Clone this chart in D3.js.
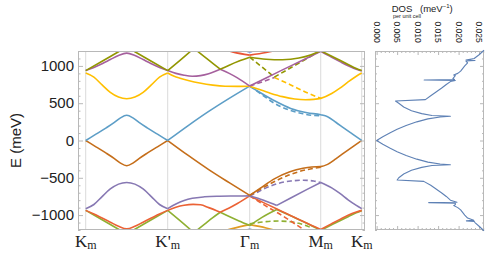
<!DOCTYPE html>
<html>
<head>
<meta charset="utf-8">
<script src="https://cdn.jsdelivr.net/npm/d3@7"></script>
<style>
  body { margin: 0; background: #fff; }
  svg { display: block; font-family: "Liberation Sans", Arial, sans-serif; }
</style>
</head>
<body>
<div class="canvas"></div>
<script>
// high-symmetry points along the path (path length in units of |Gamma-K|)
const kPoints = [0, 1, 2, 2.866, 3.366];
const kLabels = [['K', 'm'], ["K'", 'm'], ['\u0393', 'm'], ['M', 'm'], ['K', 'm']];
const eTicks = [-1000, -500, 0, 500, 1000];
const dosTicks = [0, 0.005, 0.010, 0.015, 0.020, 0.025];

// bands, each one a list of smooth pieces of [k, E(meV)]
const band1 = [[[1.9, -1250], [1.96, -1202], [2, -1190], [2.04, -1202], [2.1, -1250]]];
const band2 = [[[1.63, -1230], [1.8, -1178], [2, -1128]], [[2, -1128], [2.2, -1172], [2.45, -1245]]];
const band3 = [
  [[0, -937], [0.2, -1063], [0.4, -1190], [0.5, -1253]], [[0.5, -1253], [0.6, -1190], [0.8, -1063], [1, -937]],
  [[1, -937], [1.15, -1075], [1.32, -1235]], [[1.32, -1235], [1.45, -1121], [1.55, -1034], [1.64, -962]],
  [[1.64, -962], [1.75, -1020], [1.87, -1080], [2, -1140]],
  [[2, -1140], [2.15, -1030], [2.33, -925]], [[2.33, -925], [2.5, -1010], [2.7, -1112], [2.866, -1205]],
  [[2.866, -1205], [3.0, -1130], [3.1, -1075], [3.2, -1022], [3.3, -968], [3.366, -940]]
];
const band4 = [
  [[0, -937], [0.1, -985], [0.2, -1040], [0.3, -1095], [0.4, -1150], [0.5, -1185], [0.6, -1150], [0.7, -1095], [0.8, -1040], [0.9, -985], [1, -937]],
  [[1, -937], [1.1, -895], [1.2, -868], [1.31, -856], [1.4, -862], [1.5, -900], [1.64, -962]],
  [[1.64, -962], [1.75, -905], [1.85, -845], [2, -743]],
  [[2, -743], [2.2, -850], [2.4, -955], [2.6, -1060], [2.75, -1135], [2.866, -1193]],
  [[2.866, -1193], [3.0, -1115], [3.1, -1058], [3.2, -1003], [3.3, -960], [3.366, -937]]
];
const band5 = [
  [[0, -914], [0.1, -858], [0.2, -752], [0.3, -650], [0.4, -585], [0.5, -563], [0.6, -585], [0.7, -650], [0.8, -752], [0.9, -858], [1, -914]],
  [[1, -914], [1.1, -852], [1.2, -805], [1.3, -775], [1.45, -755], [1.6, -747], [1.8, -744], [2, -743]],
  [[2, -743], [2.1, -775], [2.2, -815], [2.33, -870]],
  [[2.33, -870], [2.5, -770], [2.7, -655], [2.866, -563]],
  [[2.866, -563], [3.0, -635], [3.1, -710], [3.2, -795], [3.3, -870], [3.366, -914]]
];
const band6 = [
  [[0, 0], [0.125, -85], [0.25, -170], [0.35, -243], [0.42, -300], [0.5, -338], [0.58, -300], [0.65, -243], [0.75, -170], [0.875, -85], [1, 0]],
  [[1, 0], [1.25, -200], [1.5, -390], [1.75, -565], [2, -735]],
  [[2, -735], [2.13, -640], [2.3, -515], [2.49, -420], [2.65, -372], [2.756, -355], [2.866, -350], [2.95, -320], [3.05, -247], [3.15, -166], [3.25, -88], [3.366, 0]]
];
const band7 = [
  [[0, 0], [0.125, 85], [0.25, 170], [0.35, 243], [0.42, 300], [0.5, 338], [0.58, 300], [0.65, 243], [0.75, 170], [0.875, 85], [1, 0]],
  [[1, 0], [1.25, 200], [1.5, 390], [1.75, 565], [2, 730]],
  [[2, 730], [2.1, 660], [2.29, 540], [2.5, 430], [2.7, 372], [2.866, 345], [2.95, 318], [3.05, 245], [3.15, 165], [3.25, 88], [3.366, 0]]
];
const band8 = [
  [[0, 905], [0.1, 850], [0.2, 745], [0.3, 645], [0.4, 582], [0.5, 560], [0.6, 582], [0.7, 645], [0.8, 745], [0.9, 850], [1, 905]],
  [[1, 905], [1.08, 860], [1.15, 835], [1.25, 805], [1.39, 770], [1.55, 742], [1.7, 728], [1.85, 726], [2, 728]],
  [[2, 728], [2.1, 690], [2.25, 635], [2.4, 588], [2.55, 556], [2.68, 546], [2.78, 551], [2.866, 565], [3.0, 630], [3.1, 702], [3.2, 785], [3.3, 862], [3.366, 905]]
];
const band9 = [
  [[0, 937], [0.1, 978], [0.2, 1030], [0.3, 1085], [0.4, 1140], [0.5, 1172], [0.6, 1140], [0.7, 1085], [0.8, 1030], [0.9, 978], [1, 937]],
  [[1, 937], [1.1, 900], [1.2, 875], [1.3, 862], [1.4, 870], [1.5, 895], [1.64, 955]],
  [[1.64, 955], [1.75, 900], [1.85, 840], [2, 730]],
  [[2, 730], [2.2, 838], [2.4, 947], [2.6, 1053], [2.75, 1133], [2.866, 1195]],
  [[2.866, 1195], [3.0, 1115], [3.1, 1058], [3.2, 1003], [3.3, 955], [3.366, 932]]
];
const band10 = [
  [[0, 937], [0.2, 1063], [0.4, 1190], [0.5, 1253]], [[0.5, 1253], [0.6, 1190], [0.8, 1063], [1, 937]],
  [[1, 937], [1.15, 1075], [1.32, 1235]], [[1.32, 1235], [1.45, 1121], [1.55, 1034], [1.64, 955]],
  [[1.64, 955], [1.75, 1010], [1.87, 1065], [2, 1117]],
  [[2, 1117], [2.2, 1090], [2.4, 1083], [2.6, 1105], [2.75, 1150], [2.866, 1203]],
  [[2.866, 1203], [3.0, 1130], [3.1, 1075], [3.2, 1020], [3.3, 966], [3.366, 937]]
];
const band11 = [[[1.63, 1235], [1.8, 1185], [2, 1145]], [[2, 1145], [2.2, 1180], [2.45, 1240]]];
const band12 = [[[1.9, 1250], [1.96, 1200], [2, 1188], [2.04, 1200], [2.1, 1250]]];

// dashed curves between Gamma and M
const dash3 = [[[2, -1117], [2.2, -1088], [2.35, -1080], [2.5, -1090], [2.6, -1110], [2.75, -1170]]];
const dash4 = [[[2, -743], [2.2, -880], [2.4, -1010], [2.57, -1130], [2.68, -1210]]];
const dash5 = [[[2, -743], [2.1, -690], [2.2, -635], [2.35, -575], [2.5, -543], [2.65, -533], [2.78, -543], [2.866, -563]]];
const dash6 = [[[2, -735], [2.2, -610], [2.45, -475], [2.7, -390], [2.866, -358]]];
const dash7 = [[[2, 730], [2.13, 630], [2.3, 500], [2.49, 405], [2.65, 358], [2.756, 338], [2.866, 332]]];
const dash8 = [[[2.3, 845], [2.5, 745], [2.7, 640], [2.866, 565]]];
const dash9 = [[[2, 730], [2.15, 785], [2.3, 845]]];
const dash10 = [[[2, 1117], [2.15, 985], [2.3, 850]], [[2.3, 850], [2.5, 975], [2.7, 1100], [2.866, 1203]]];

// density of states: [E(meV), DOS]
const dosE = [-1210, -1150, -1100, -1085, -1078, -1070, -1040, -1000, -930, -900, -873, -860, -840, -833, -828, -800, -750, -700, -650, -600, -548, -530, -500, -450, -400, -360, -335, -325, -315, -290, -250, -200, -150, -100, -50, 0,
  50, 100, 150, 200, 250, 290, 315, 325, 335, 360, 400, 450, 500, 530, 548, 600, 650, 700, 750, 790, 805, 812, 818, 830, 870, 878, 900, 930, 1000, 1040, 1065, 1072, 1080, 1100, 1150, 1210];
const dosV = [0.0262, 0.0250, 0.0240, 0.0238, 0.0219, 0.0237, 0.0222, 0.0215, 0.0205, 0.0198, 0.0188, 0.0192, 0.0192, 0.0127, 0.0196, 0.0180, 0.0170, 0.0158, 0.0145, 0.0132, 0.0115, 0.0050, 0.0054, 0.0066, 0.0085, 0.0110, 0.0135, 0.0180, 0.0155, 0.0125, 0.0098, 0.0072, 0.0050, 0.0032, 0.0015, 0,
  0.0015, 0.0032, 0.0050, 0.0072, 0.0098, 0.0125, 0.0155, 0.0180, 0.0135, 0.0110, 0.0085, 0.0066, 0.0054, 0.0046, 0.0119, 0.0132, 0.0145, 0.0158, 0.0170, 0.0180, 0.0192, 0.0116, 0.0190, 0.0186, 0.0192, 0.0188, 0.0198, 0.0205, 0.0215, 0.0222, 0.0218, 0.0240, 0.0218, 0.0238, 0.0250, 0.0262];

const bands = [
  {d: band1, c: '#5E81B5'}, {d: band2, c: '#E19C24'}, {d: band3, c: '#8FB032'}, {d: band4, c: '#EB6235'},
  {d: band5, c: '#8778B3'}, {d: band6, c: '#C56E1A'}, {d: band7, c: '#5D9EC7'}, {d: band8, c: '#FFBF00'},
  {d: band9, c: '#A5609D'}, {d: band10, c: '#929600'}, {d: band11, c: '#E95536'}, {d: band12, c: '#6685D9'}
];
const dashes = [
  {d: dash3, c: '#8FB032'}, {d: dash4, c: '#EB6235'}, {d: dash5, c: '#8778B3'}, {d: dash6, c: '#C56E1A'},
  {d: dash7, c: '#5D9EC7'}, {d: dash8, c: '#FFBF00'}, {d: dash9, c: '#A5609D'}, {d: dash10, c: '#929600'}
];

const W = 498, H = 256;
const frameCol = '#b8b8b8', gridCol = '#dadada', textCol = '#222';

const svg = d3.select('.canvas').append('svg')
  .attr('width', W)
  .attr('height', H);

const x = d3.scaleLinear().domain([-0.094, 3.406]).range([78, 365]);
const y = d3.scaleLinear().domain([-1200, 1200]).range([230, 51]);
const xd = d3.scaleLinear().domain([-0.0004, 0.0262]).range([375, 484]);

svg.append('clipPath').attr('id', 'clipMain')
  .append('rect')
  .attr('x', x.range()[0]).attr('y', y.range()[1])
  .attr('width', x.range()[1] - x.range()[0])
  .attr('height', y.range()[0] - y.range()[1]);

// vertical lines at the high-symmetry points
svg.append('g').selectAll('line')
  .data(kPoints)
  .join('line')
  .attr('x1', d => x(d)).attr('x2', d => x(d))
  .attr('y1', y.range()[1]).attr('y2', y.range()[0])
  .attr('stroke', gridCol)
  .attr('stroke-width', 1);

const line = d3.line()
  .x(d => x(d[0]))
  .y(d => y(d[1]))
  .curve(d3.curveMonotoneX);

const plot = svg.append('g').attr('clip-path', 'url(#clipMain)');

// dashed curves under the solid bands
dashes.forEach(b => {
  plot.append('g').selectAll('path')
    .data(b.d)
    .join('path')
    .attr('d', line)
    .attr('fill', 'none')
    .attr('stroke', b.c)
    .attr('stroke-width', 1.6)
    .attr('stroke-dasharray', '5,3');
});

bands.forEach(b => {
  plot.append('g').selectAll('path')
    .data(b.d)
    .join('path')
    .attr('d', line)
    .attr('fill', 'none')
    .attr('stroke', b.c)
    .attr('stroke-width', 1.6)
    .attr('stroke-linejoin', 'round');
});

// frame of the band panel
svg.append('rect')
  .attr('x', x.range()[0] + 0.5).attr('y', y.range()[1] + 0.5)
  .attr('width', x.range()[1] - x.range()[0] - 1)
  .attr('height', y.range()[0] - y.range()[1] - 1)
  .attr('fill', 'none')
  .attr('stroke', frameCol);

// energy ticks, inward on both sides
const minorE = d3.range(-1200, 1201, 100).filter(v => v % 500 !== 0);
[x.range()[0], x.range()[1]].forEach((x0, i) => {
  const dir = i === 0 ? 1 : -1;
  svg.append('g').selectAll('line')
    .data(eTicks)
    .join('line')
    .attr('x1', x0).attr('x2', x0 + dir * 5)
    .attr('y1', d => y(d) + 0.5).attr('y2', d => y(d) + 0.5)
    .attr('stroke', frameCol);
  svg.append('g').selectAll('line')
    .data(minorE)
    .join('line')
    .attr('x1', x0).attr('x2', x0 + dir * 2.5)
    .attr('y1', d => y(d) + 0.5).attr('y2', d => y(d) + 0.5)
    .attr('stroke', frameCol);
});

svg.append('g').selectAll('text')
  .data(eTicks)
  .join('text')
  .attr('x', x.range()[0] - 4)
  .attr('y', d => y(d))
  .attr('dy', '0.35em')
  .attr('text-anchor', 'end')
  .attr('fill', textCol)
  .style('font-size', '15px')
  .text(d => d < 0 ? '\u2212' + Math.abs(d) : d);

svg.append('text')
  .attr('transform', `translate(21, ${y(0)}) rotate(-90)`)
  .attr('text-anchor', 'middle')
  .attr('fill', textCol)
  .style('font-size', '15px')
  .text('E (meV)');

// k labels
const kl = svg.append('g').selectAll('text')
  .data(kPoints)
  .join('text')
  .attr('x', d => x(d))
  .attr('y', 247)
  .attr('text-anchor', 'middle')
  .attr('fill', textCol)
  .style('font-family', '"Liberation Serif", "Times New Roman", serif')
  .style('font-size', '17px');
kl.append('tspan').text((d, i) => kLabels[i][0]);
kl.append('tspan').attr('dy', 2).style('font-size', '12px').text((d, i) => kLabels[i][1]);

// DOS panel
svg.append('rect')
  .attr('x', xd.range()[0] + 0.5).attr('y', y.range()[1] + 0.5)
  .attr('width', xd.range()[1] - xd.range()[0] - 1)
  .attr('height', y.range()[0] - y.range()[1] - 1)
  .attr('fill', 'none')
  .attr('stroke', frameCol);

const minorD = d3.range(0, 0.0261, 0.001).filter((v, i) => i % 5 !== 0);
[y.range()[1], y.range()[0]].forEach((y0, i) => {
  const dir = i === 0 ? 1 : -1;
  svg.append('g').selectAll('line')
    .data(dosTicks)
    .join('line')
    .attr('x1', d => xd(d) + 0.5).attr('x2', d => xd(d) + 0.5)
    .attr('y1', y0).attr('y2', y0 + dir * 4)
    .attr('stroke', frameCol);
  svg.append('g').selectAll('line')
    .data(minorD)
    .join('line')
    .attr('x1', d => xd(d) + 0.5).attr('x2', d => xd(d) + 0.5)
    .attr('y1', y0).attr('y2', y0 + dir * 2)
    .attr('stroke', frameCol);
});
[xd.range()[0], xd.range()[1]].forEach((x0, i) => {
  const dir = i === 0 ? 1 : -1;
  svg.append('g').selectAll('line')
    .data(eTicks)
    .join('line')
    .attr('x1', x0).attr('x2', x0 + dir * 4)
    .attr('y1', d => y(d) + 0.5).attr('y2', d => y(d) + 0.5)
    .attr('stroke', frameCol);
  svg.append('g').selectAll('line')
    .data(minorE)
    .join('line')
    .attr('x1', x0).attr('x2', x0 + dir * 2)
    .attr('y1', d => y(d) + 0.5).attr('y2', d => y(d) + 0.5)
    .attr('stroke', frameCol);
});

svg.append('g').selectAll('text')
  .data(dosTicks)
  .join('text')
  .attr('transform', d => `translate(${xd(d)}, 21.5) rotate(90)`)
  .attr('dy', '0.35em')
  .attr('fill', textCol)
  .style('font-size', '8.5px')
  .text(d => d3.format('.3f')(d));

const dosLine = d3.line()
  .x(d => xd(d[1]))
  .y(d => y(d[0]));

svg.append('path')
  .attr('d', dosLine(dosE.map((e, i) => [e, dosV[i]])))
  .attr('fill', 'none')
  .attr('stroke', '#5E81B5')
  .attr('stroke-width', 1.1)
  .attr('stroke-linejoin', 'round');

// DOS title
svg.append('text')
  .attr('x', 402).attr('y', 11.5)
  .attr('text-anchor', 'middle')
  .attr('fill', textCol)
  .style('font-size', '9.5px')
  .text('DOS');
svg.append('text')
  .attr('x', 407).attr('y', 18)
  .attr('text-anchor', 'middle')
  .attr('fill', textCol)
  .style('font-size', '5.5px')
  .text('per unit cell');
const unit = svg.append('text')
  .attr('x', 420).attr('y', 11.5)
  .attr('fill', textCol)
  .style('font-size', '9.5px');
unit.append('tspan').text('(meV');
unit.append('tspan').attr('dy', -3.5).style('font-size', '6px').text('\u22121');
unit.append('tspan').attr('dy', 3.5).text(')');
</script>
</body>
</html>
